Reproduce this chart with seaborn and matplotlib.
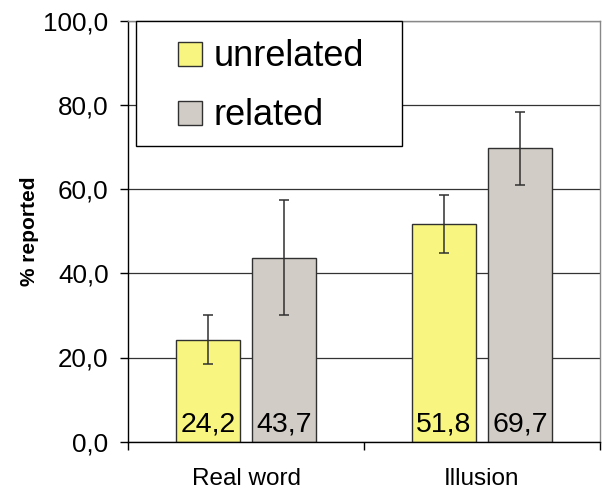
import matplotlib
matplotlib.use('Agg')
import pandas as pd
import seaborn as sns
import matplotlib.pyplot as plt
from matplotlib.patches import Patch, Rectangle
from matplotlib.legend_handler import HandlerPatch

categories = ['Real word', 'Illusion']
conditions = ['unrelated', 'related']
unrelated = [24.2, 51.8]
related = [43.7, 69.7]
unrelated_err = [5.8, 6.9]
related_err = [13.7, 8.7]
yticks = [0, 20, 40, 60, 80, 100]

df = pd.DataFrame({
    'type': categories * 2,
    'condition': ['unrelated'] * 2 + ['related'] * 2,
    'value': unrelated + related,
    'err': unrelated_err + related_err,
})

sns.set_style('white')
plt.rcParams['font.family'] = ['Liberation Sans', 'DejaVu Sans']
plt.rcParams['text.color'] = 'black'
plt.rcParams['axes.labelcolor'] = 'black'
plt.rcParams['xtick.color'] = 'black'
plt.rcParams['ytick.color'] = 'black'

fig = plt.figure(figsize=(6.02, 4.91), dpi=100)
ax = fig.add_axes([128 / 602, 1 - 441.7 / 491, 472 / 602, 421 / 491])

palette = {'unrelated': '#F8F680', 'related': '#D1CCC6'}
sns.barplot(data=df, x='type', y='value', hue='condition', order=categories,
            hue_order=conditions, palette=palette, width=0.644, gap=0.146,
            errorbar=None, edgecolor='#303030', linewidth=1, saturation=1,
            legend=False, ax=ax)

# error bars + value labels on each bar
for cont, cond in zip(ax.containers, conditions):
    sub = df[df['condition'] == cond].set_index('type')
    for bar in cont:
        xc = bar.get_x() + bar.get_width() / 2
        cat = categories[int(round(xc))]
        v = sub.loc[cat, 'value']
        ax.errorbar(xc, v, yerr=sub.loc[cat, 'err'], fmt='none', ecolor='#303030',
                    elinewidth=1.1, capsize=3.6, capthick=1.1, zorder=5)
        ax.text(xc, 2.4, f'{v:.1f}'.replace('.', ','), ha='center', va='baseline',
                fontsize=20.5, color='black', zorder=6)

ax.set_ylim(0, 100)
ax.set_xlim(-0.5, 1.5)
ax.set_yticks(yticks)
ax.set_yticklabels([f'{t:.1f}'.replace('.', ',') for t in yticks], fontsize=18.7)
ax.tick_params(axis='y', length=6, width=1, direction='out', color='black', pad=8, left=True)

ax.set_xticks([-0.5, 0.5, 1.5])
ax.set_xticklabels([])
ax.set_xticks([0, 1], minor=True)
ax.set_xticklabels(categories, minor=True, fontsize=17.5)
ax.tick_params(axis='x', which='major', length=6, width=1, direction='out', color='black', bottom=True)
ax.tick_params(axis='x', which='minor', length=0, pad=19)

ax.set_xlabel('')
ax.set_ylabel('% reported', fontsize=15, fontweight='bold', labelpad=3)

ax.yaxis.grid(True, color='#333333', lw=0.9)
ax.set_axisbelow(True)
for s in ['left', 'bottom']:
    ax.spines[s].set_color('black')
    ax.spines[s].set_linewidth(1)
for s in ['top', 'right']:
    ax.spines[s].set_color('#888888')
    ax.spines[s].set_linewidth(1)

SQ = 17.3  # legend square side in points


def square(legend, orig_handle, xdescent, ydescent, width, height, fontsize):
    return Rectangle((-xdescent + width - SQ, 0), SQ, SQ)


handles = [Patch(facecolor=palette[c], edgecolor='#303030', label=c) for c in conditions]
leg = ax.legend(handles=handles, loc='upper left', bbox_to_anchor=(8 / 472, 0, 266 / 472, 1),
                mode='expand', fontsize=26, handlelength=1.47, handleheight=1.30,
                handletextpad=0.3, borderpad=0.366, labelspacing=0.53, borderaxespad=0,
                frameon=True, fancybox=False, shadow=False, framealpha=1,
                edgecolor='black', handler_map={Patch: HandlerPatch(patch_func=square)})
leg.get_frame().set_linewidth(1)
for t in leg.get_texts():
    t.set_color('black')

fig.savefig('out.png', dpi=100)
